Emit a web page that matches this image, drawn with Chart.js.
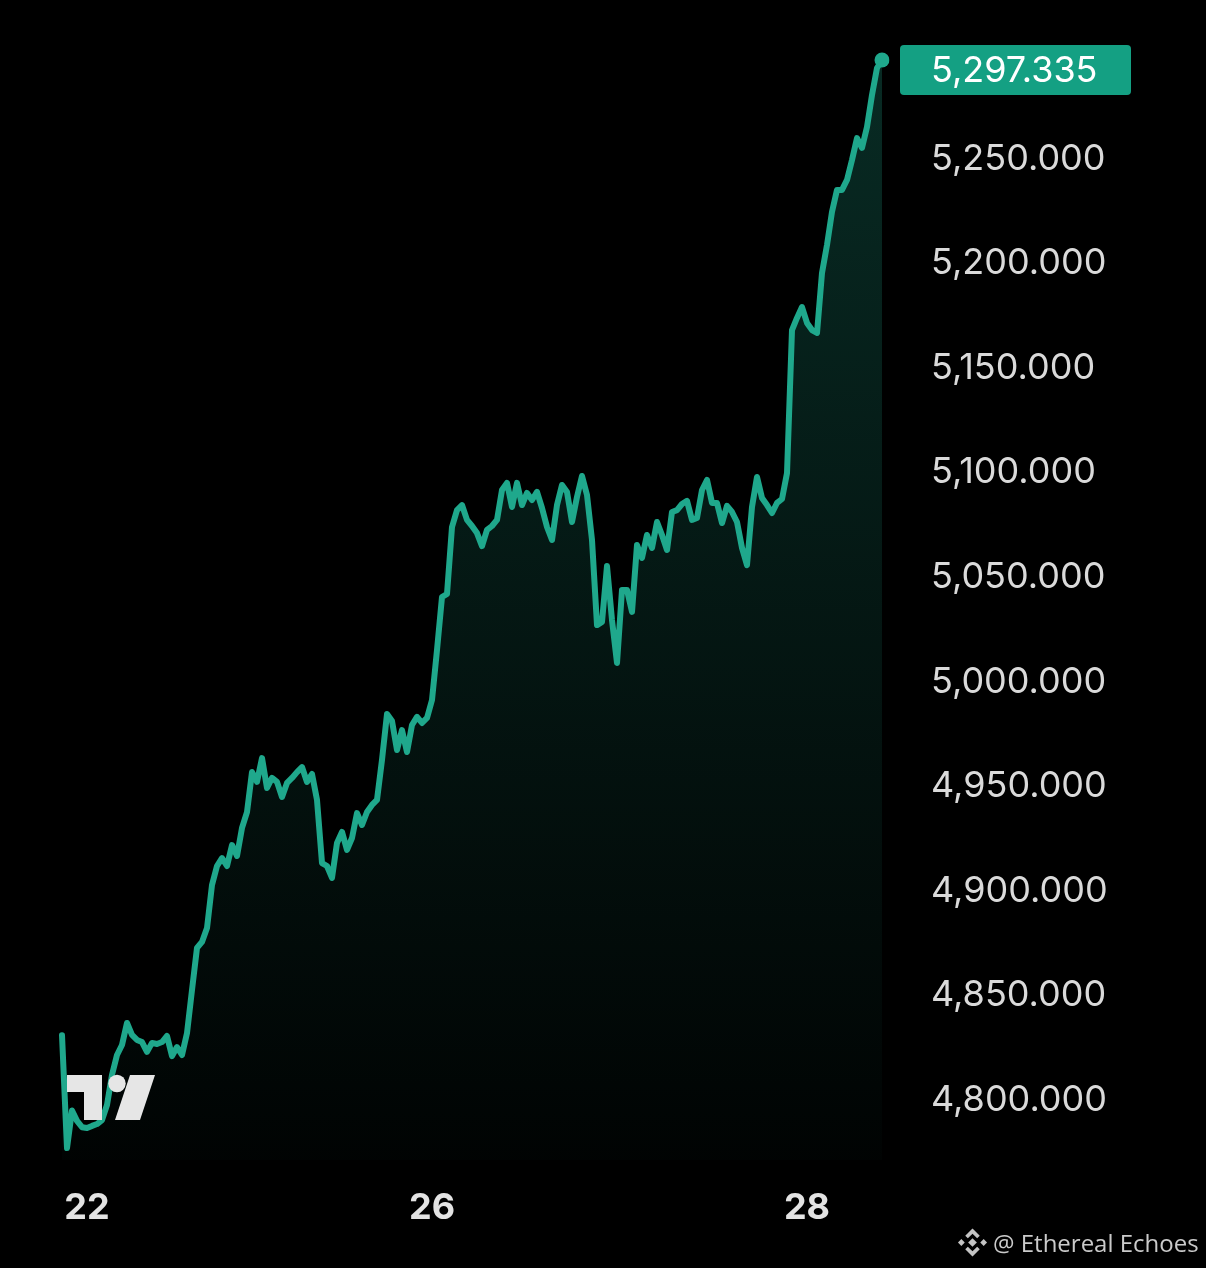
<!DOCTYPE html>
<html>
<head>
<meta charset="utf-8">
<script src="https://cdn.jsdelivr.net/npm/chart.js@4.4.1/dist/chart.umd.min.js"></script>
<style>
  html, body { margin: 0; padding: 0; background: #000; }
  #wrap { position: relative; width: 1206px; height: 1268px; overflow: hidden; }
  #chart { display: block; }
  .credit {
    position: absolute; left: 957px; top: 1226px; height: 32px;
    display: flex; align-items: center; gap: 5px;
    font-family: "Open Sans", sans-serif; font-size: 24px; color: #cacaca;
  }
</style>
</head>
<body>
<div id="wrap">
  <canvas id="chart" width="1206" height="1268"></canvas>
  <div class="credit">
    <svg width="31" height="31" viewBox="0 0 32 32">
      <g fill="#c4c4c4">
        <polygon points="16,11.5 20.5,16 16,20.5 11.5,16"/>
        <polygon points="4.5,12.5 8,16 4.5,19.5 1,16"/>
        <polygon points="27.5,12.5 31,16 27.5,19.5 24,16"/>
        <path d="M16,1.5 L23.5,9 L20.8,11.7 L16,6.9 L11.2,11.7 L8.5,9 Z"/>
        <path d="M16,30.5 L23.5,23 L20.8,20.3 L16,25.1 L11.2,20.3 L8.5,23 Z"/>
      </g>
    </svg>
    <span>@ Ethereal Echoes</span>
  </div>
</div>
<script>
// price, evenly spaced bars left to right
const prices = [
  4831, 4777, 4795, 4790, 4787, 4786.6, 4787.6, 4788.5, 4790.4, 4797.6,
  4812, 4821.5, 4826.3, 4836.8, 4831.1, 4828.7, 4827.7, 4823, 4827.3, 4826.8,
  4827.7, 4830.6, 4821, 4825.3, 4821.5, 4832, 4852.6, 4872.7, 4875.6, 4882.2,
  4902.8, 4911.9, 4915.7, 4911.9, 4921.9, 4916.7, 4930.1, 4937.7, 4956.8, 4952.1,
  4963.5, 4949.2, 4954, 4952.1, 4944.9, 4951.6, 4954, 4956.8, 4959.2, 4952.1,
  4955.9, 4943.5, 4913.3, 4911.9, 4906.2, 4922.9, 4928.2, 4919.6, 4925.3, 4937.2,
  4931.5, 4937.7, 4941.1, 4943.5, 4962.6, 4984.6, 4981.2, 4967.4, 4976.9, 4966.4,
  4979.3, 4983.2, 4980.3, 4982.7, 4991.3, 5015.2, 5040.5, 5042, 5074, 5082.1,
  5084.5, 5077.4, 5074.5, 5071.1, 5064.9, 5072.6, 5074.5, 5077.4, 5091.7, 5095.1,
  5083.6, 5095.1, 5084.5, 5090.3, 5086.9, 5090.8, 5083.1, 5074, 5067.8, 5084.5,
  5094.1, 5090.8, 5076.4, 5088.4, 5098.4, 5089.3, 5067.8, 5027.1, 5028.6, 5055.4,
  5029.5, 5009, 5043.9, 5043.9, 5033.4, 5065.4, 5059.2, 5070.2, 5064, 5076.4,
  5070.2, 5063, 5081.2, 5082.1, 5085, 5086.5, 5077.4, 5078.3, 5091.7, 5096.5,
  5085.5, 5085.5, 5075.9, 5084.1, 5081.2, 5076.4, 5064, 5055.8, 5083.6, 5097.9,
  5087.9, 5084.5, 5080.7, 5085.5, 5087.4, 5099.8, 5168.2, 5174, 5179.2, 5171.6,
  5168.2, 5166.8, 5195.5, 5208.9, 5224.7, 5235.2, 5235.2, 5240, 5249.5, 5260,
  5255.3, 5265.3, 5280.6, 5293.5, 5297.335
];

// day labels on the time axis and the bar they sit under
const dayLabels = ['22', '26', '28'];
const dayIndex = [5, 74, 149];

// price axis ticks
const yTicks = [4800, 4850, 4900, 4950, 5000, 5050, 5100, 5150, 5200, 5250];
const yMin = 4771.3;
const yMax = 5306.9;

const TEAL = '#1fa88c';

const labels = prices.map((_, i) => {
  const k = dayIndex.indexOf(i);
  return k >= 0 ? dayLabels[k] : '';
});

function fmt(v) {
  const [a, b] = v.toFixed(3).split('.');
  return a.replace(/\B(?=(\d{3})+(?!\d))/g, ',') + '.' + b;
}

const decor = {
  id: 'decor',
  afterDatasetsDraw(chart) {
    const ctx = chart.ctx;
    // tradingview mark
    ctx.save();
    ctx.fillStyle = '#e6e6e6';
    ctx.fillRect(67, 1075, 35, 17);
    ctx.fillRect(84, 1075, 18, 45);
    ctx.beginPath();
    ctx.arc(117, 1083.5, 8.7, 0, Math.PI * 2);
    ctx.fill();
    ctx.beginPath();
    ctx.moveTo(130, 1075);
    ctx.lineTo(155, 1075);
    ctx.lineTo(140, 1120);
    ctx.lineTo(115, 1120);
    ctx.closePath();
    ctx.fill();
    ctx.restore();
  },
  afterDraw(chart) {
    const ctx = chart.ctx;
    const last = prices[prices.length - 1];
    const cy = chart.scales.y.getPixelForValue(last) + 10;
    ctx.save();
    ctx.fillStyle = '#14a083';
    ctx.beginPath();
    ctx.roundRect(900, cy - 25, 231, 50, 4);
    ctx.fill();
    ctx.fillStyle = '#ffffff';
    ctx.font = '36px Inter';
    ctx.textAlign = 'left';
    ctx.textBaseline = 'middle';
    ctx.fillText(fmt(last), 931, cy + 1);
    ctx.restore();
  }
};

new Chart(document.getElementById('chart'), {
  type: 'line',
  data: {
    labels,
    datasets: [{
      data: prices,
      borderColor: TEAL,
      borderWidth: 6,
      borderJoinStyle: 'round',
      borderCapStyle: 'round',
      tension: 0,
      fill: 'start',
      backgroundColor: (c) => {
        const a = c.chart.chartArea;
        if (!a) return 'rgba(0,0,0,0)';
        const g = c.chart.ctx.createLinearGradient(0, a.top, 0, a.bottom);
        g.addColorStop(0, 'rgba(31,168,140,0.26)');
        g.addColorStop(1, 'rgba(31,168,140,0.02)');
        return g;
      },
      pointRadius: prices.map((_, i) => i === prices.length - 1 ? 7.5 : 0),
      pointBackgroundColor: TEAL,
      pointBorderWidth: 0
    }]
  },
  options: {
    responsive: false,
    animation: false,
    layout: { padding: { left: 62, right: 0, top: 40, bottom: 0 } },
    plugins: { legend: { display: false }, tooltip: { enabled: false } },
    scales: {
      x: {
        grid: { display: false, drawTicks: false },
        border: { display: false },
        afterFit: s => { s.height = 108; s.paddingLeft = 0; s.paddingRight = 0; },
        ticks: {
          autoSkip: false, maxRotation: 0, padding: 27,
          color: '#e3e3e3',
          font: { family: 'Inter', size: 36, weight: 'bold' }
        }
      },
      y: {
        position: 'right',
        min: yMin,
        max: yMax,
        grid: { display: false, drawTicks: false },
        border: { display: false },
        afterBuildTicks: s => { s.ticks = yTicks.map(v => ({ value: v })); },
        afterFit: s => { s.width = 324; s.paddingTop = 0; s.paddingBottom = 0; },
        ticks: {
          padding: 49,
          color: '#dadada',
          font: { family: 'Inter', size: 36 },
          callback: v => fmt(v)
        }
      }
    }
  },
  plugins: [decor]
});
</script>
</body>
</html>
